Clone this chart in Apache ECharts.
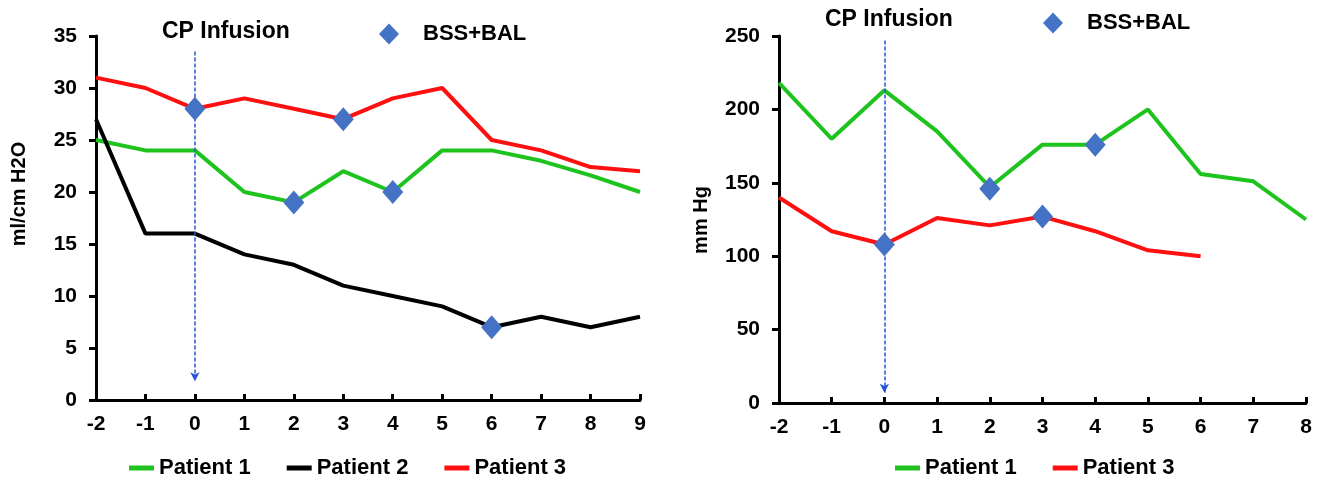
<!DOCTYPE html>
<html>
<head>
<meta charset="utf-8">
<script src="https://cdn.jsdelivr.net/npm/echarts@6/dist/echarts.min.js"></script>
<style>
  html, body { margin: 0; padding: 0; background: #fff; }
  #main { width: 1322px; height: 477px; }
</style>
</head>
<body>
<div id="main"></div>
<script>
// left panel: compliance (ml/cm H2O), days -2..9
const daysL = [-2, -1, 0, 1, 2, 3, 4, 5, 6, 7, 8, 9]
const p1Left = [25, 24, 24, 20, 19, 22, 20, 24, 24, 23, 21.6, 20]
const p2Left = [27, 16, 16, 14, 13, 11, 10, 9, 7, 8, 7, 8]
const p3Left = [31, 30, 28, 29, 28, 27, 29, 30, 25, 24, 22.4, 22]
const bssLeft = [[0, 28], [3, 27], [2, 19], [4, 20], [6, 7]]

// right panel: PaO2/FiO2 (mm Hg), days -2..8
const daysR = [-2, -1, 0, 1, 2, 3, 4, 5, 6, 7, 8]
const p1Right = [218, 180, 213, 185, 147, 176, 176, 200, 156, 151, 125]
const daysR3 = [-2, -1, 0, 1, 2, 3, 4, 5, 6]
const p3Right = [140, 117, 108, 126, 121, 127, 117, 104, 100]
const bssRight = [[0, 108], [2, 146], [3, 127], [4, 176]]

const GREEN = '#1ec31e'
const RED = '#ff1010'
const BLACK = '#000'
const BLUE = '#4472c4'
const FONT = '"Liberation Sans", Arial, sans-serif'

const zip = (xs, ys) => xs.map((x, i) => [x, ys[i]])

const line = (name, color, data, idx) => ({
  name, type: 'line', xAxisIndex: idx, yAxisIndex: idx, data,
  symbol: 'none', lineStyle: { color, width: 4 }, itemStyle: { color }, z: 2,
})

const bss = (data, idx, top, bottom) => ({
  name: 'BSS+BAL', type: 'scatter', xAxisIndex: idx, yAxisIndex: idx, data,
  symbol: 'diamond', symbolSize: [21, 24], itemStyle: { color: BLUE, opacity: 1 }, z: 5,
  markLine: {
    silent: true, symbol: ['none', 'arrow'], symbolSize: [7, 9],
    label: { show: false },
    lineStyle: { color: '#2554d8', type: [4, 2], width: 1.5, opacity: 1 },
    data: [[{ coord: [0, top] }, { coord: [0, bottom] }]],
  },
})

const xAxis = (idx, max) => ({
  type: 'value', gridIndex: idx, min: -2, max, interval: 1,
  axisLine: { onZero: false, lineStyle: { color: BLACK, width: 3 } },
  axisTick: { show: true, inside: true, length: 6, lineStyle: { width: 3, color: BLACK } },
  axisLabel: { color: BLACK, fontFamily: FONT, fontWeight: 'bold', fontSize: 21, margin: 14 },
  splitLine: { show: false },
})

const yAxis = (idx, max, interval) => ({
  type: 'value', gridIndex: idx, min: 0, max, interval,
  axisLine: { show: true, onZero: false, lineStyle: { color: BLACK, width: 3 } },
  axisTick: { show: true, length: 7, lineStyle: { width: 3, color: BLACK } },
  axisLabel: { color: BLACK, fontFamily: FONT, fontWeight: 'bold', fontSize: 21, margin: 19 },
  splitLine: { show: false },
})

const legendText = { color: BLACK, fontFamily: FONT, fontWeight: 'bold', fontSize: 22 }
const patientLegend = (names, left) => ({
  data: names, left, top: 452, icon: 'rect', itemWidth: 25, itemHeight: 5, itemGap: 36,
  textStyle: legendText, selectedMode: false,
})
const bssLegend = (left, top) => ({
  data: ['BSS+BAL'], left, top, icon: 'diamond', itemWidth: 20, itemHeight: 21,
  textStyle: Object.assign({ padding: [0, 0, 0, 19] }, legendText), selectedMode: false,
})

const chart = echarts.init(document.getElementById('main'))
chart.setOption({
  animation: false,
  grid: [
    { left: 96, top: 36, width: 544, height: 364 },
    { left: 779, top: 36, width: 527, height: 367 },
  ],
  xAxis: [xAxis(0, 9), xAxis(1, 8)],
  yAxis: [yAxis(0, 35, 5), yAxis(1, 250, 50)],
  legend: [
    patientLegend(['Patient 1', 'Patient 2', 'Patient 3'], 124),
    patientLegend(['Patient 1', 'Patient 3'], 890),
    bssLegend(374, 18),
    bssLegend(1038, 7),
  ],
  graphic: [
    { type: 'text', left: 162, top: 20, style: { text: 'CP Infusion', fill: BLACK, font: 'bold 23px ' + FONT } },
    { type: 'text', left: 825, top: 8, style: { text: 'CP Infusion', fill: BLACK, font: 'bold 23px ' + FONT } },
    {
      type: 'text', x: 19, y: 194, rotation: Math.PI / 2,
      style: { text: 'ml/cm H2O', fill: BLACK, font: 'bold 20px ' + FONT, align: 'center', verticalAlign: 'middle' },
    },
    {
      type: 'text', x: 701, y: 220, rotation: Math.PI / 2,
      style: { text: 'mm Hg', fill: BLACK, font: 'bold 20px ' + FONT, align: 'center', verticalAlign: 'middle' },
    },
  ],
  series: [
    line('Patient 1', GREEN, zip(daysL, p1Left), 0),
    line('Patient 2', BLACK, zip(daysL, p2Left), 0),
    line('Patient 3', RED, zip(daysL, p3Left), 0),
    bss(bssLeft, 0, 33.5, 1.8),
    line('Patient 1', GREEN, zip(daysR, p1Right), 1),
    line('Patient 3', RED, zip(daysR3, p3Right), 1),
    bss(bssRight, 1, 247, 7),
  ],
})
</script>
</body>
</html>
